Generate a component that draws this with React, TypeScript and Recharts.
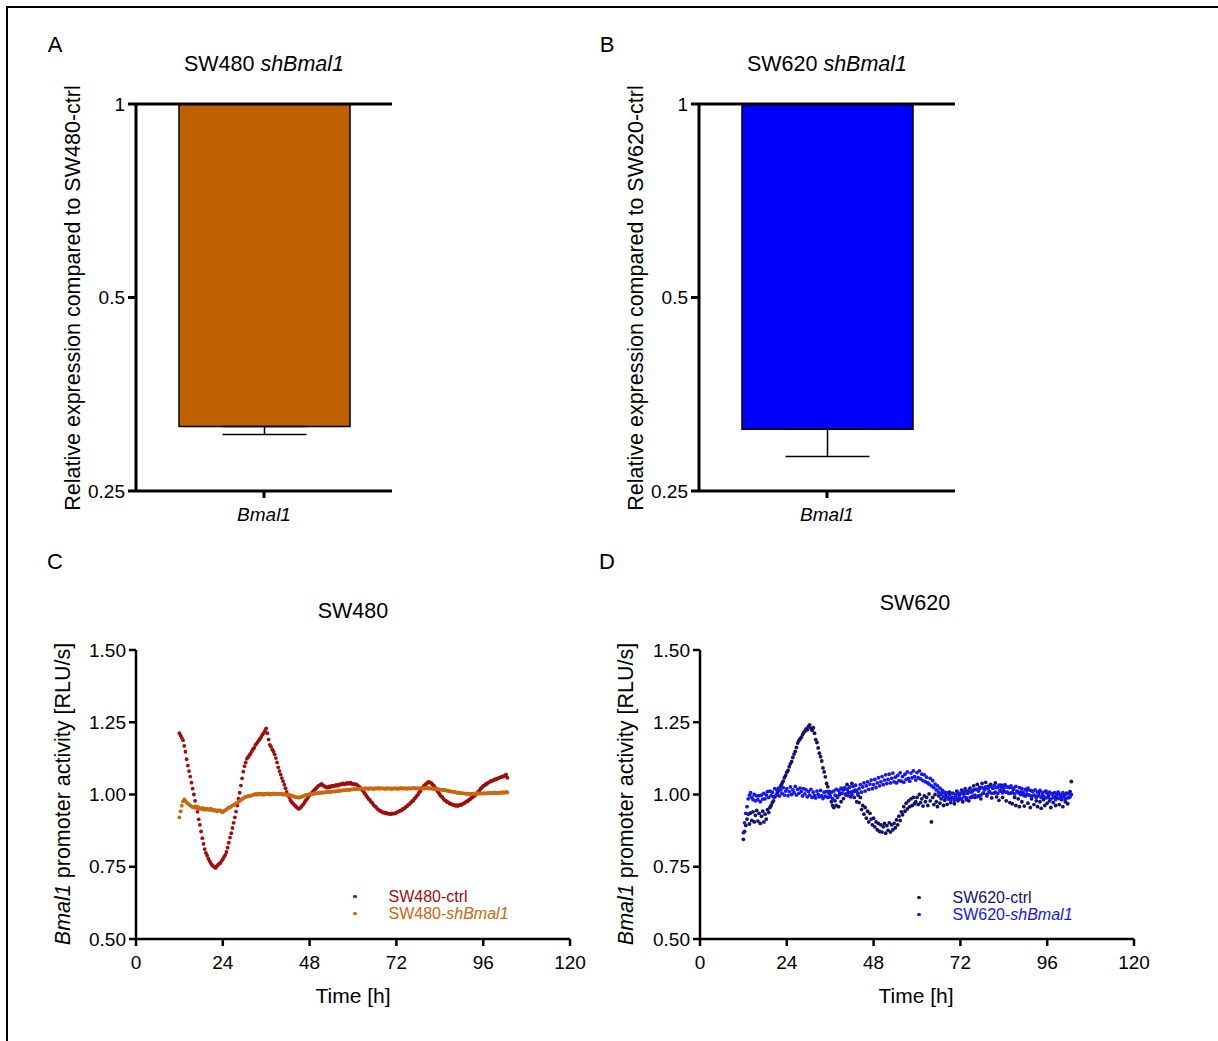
import React from 'react'
import {
  BarChart,
  Bar,
  ErrorBar,
  XAxis,
  YAxis,
  ReferenceLine,
  ScatterChart,
  Scatter,
  Legend,
} from 'recharts'

const FONT = '"Liberation Sans", Arial, Helvetica, sans-serif'

// qPCR: expression relative to the matching control line (= 1)
const GENES = ['Bmal1']
const SW480_KD = [0.315]
const SW480_KD_ERR = [0.009]
const SW620_KD = [0.312]
const SW620_KD_ERR = [0.029]

const BAR_TICKS = [0.25, 0.5, 1]
const TIME_TICKS = [0, 24, 48, 72, 96, 120]
const RLU_TICKS = [0.5, 0.75, 1, 1.25, 1.5]

// luminescence readings, one every 20 min starting at 12 h
const T0 = 12
const STEP = 1 / 3

const SW480_CTRL = [
  1.212, 1.204, 1.196, 1.188, 1.168, 1.148, 1.122, 1.1, 1.081, 1.062, 1.041, 1.02,
  1.0, 0.978, 0.958, 0.94, 0.914, 0.895, 0.872, 0.849, 0.829, 0.811, 0.798, 0.789,
  0.778, 0.77, 0.763, 0.756, 0.752, 0.749, 0.746, 0.752, 0.756, 0.761, 0.763, 0.77,
  0.776, 0.784, 0.791, 0.801, 0.816, 0.833, 0.851, 0.866, 0.884, 0.902, 0.921, 0.941,
  0.962, 0.986, 1.006, 1.031, 1.056, 1.079, 1.098, 1.111, 1.124, 1.129, 1.136, 1.141,
  1.149, 1.157, 1.161, 1.171, 1.176, 1.182, 1.188, 1.194, 1.2, 1.208, 1.213, 1.221,
  1.229, 1.212, 1.19, 1.172, 1.166, 1.156, 1.149, 1.139, 1.126, 1.111, 1.094, 1.081,
  1.069, 1.057, 1.046, 1.034, 1.022, 1.009, 0.999, 0.991, 0.981, 0.974, 0.97, 0.965,
  0.961, 0.957, 0.953, 0.95, 0.953, 0.957, 0.963, 0.967, 0.974, 0.981, 0.985, 0.992,
  0.997, 1.003, 1.006, 1.011, 1.016, 1.019, 1.024, 1.029, 1.031, 1.034, 1.037, 1.032,
  1.029, 1.027, 1.025, 1.024, 1.028, 1.025, 1.029, 1.031, 1.028, 1.031, 1.033, 1.03,
  1.034, 1.033, 1.037, 1.035, 1.038, 1.035, 1.037, 1.04, 1.037, 1.039, 1.041, 1.036,
  1.037, 1.035, 1.036, 1.034, 1.031, 1.027, 1.024, 1.019, 1.014, 1.009, 1.002, 0.996,
  0.99, 0.984, 0.981, 0.974, 0.971, 0.964, 0.96, 0.957, 0.951, 0.948, 0.944, 0.943,
  0.94, 0.937, 0.938, 0.935, 0.936, 0.933, 0.934, 0.932, 0.935, 0.933, 0.935, 0.934,
  0.937, 0.94, 0.941, 0.944, 0.945, 0.949, 0.951, 0.953, 0.958, 0.96, 0.965, 0.967,
  0.972, 0.977, 0.979, 0.986, 0.989, 0.996, 1.0, 1.008, 1.012, 1.021, 1.024, 1.031,
  1.035, 1.037, 1.042, 1.044, 1.041, 1.039, 1.034, 1.031, 1.024, 1.02, 1.012, 1.007,
  1.0, 0.994, 0.991, 0.985, 0.98, 0.979, 0.974, 0.973, 0.969, 0.968, 0.965, 0.965,
  0.963, 0.961, 0.963, 0.96, 0.963, 0.965, 0.964, 0.968, 0.969, 0.972, 0.976, 0.976,
  0.981, 0.983, 0.988, 0.99, 0.994, 0.996, 1.001, 1.005, 1.011, 1.014, 1.021, 1.024,
  1.03, 1.031, 1.036, 1.036, 1.041, 1.042, 1.046, 1.046, 1.049, 1.05, 1.053, 1.052,
  1.056, 1.057, 1.059, 1.06, 1.063, 1.062, 1.066, 1.069, 1.058,
]

const SW480_SH = [
  0.921, 0.942, 0.961, 0.976, 0.983, 0.979, 0.972, 0.969, 0.965, 0.962, 0.96, 0.956,
  0.955, 0.959, 0.953, 0.951, 0.956, 0.95, 0.951, 0.954, 0.948, 0.951, 0.947, 0.95,
  0.949, 0.946, 0.951, 0.948, 0.944, 0.947, 0.945, 0.942, 0.946, 0.943, 0.945, 0.94,
  0.939, 0.943, 0.946, 0.948, 0.952, 0.955, 0.955, 0.959, 0.962, 0.963, 0.967, 0.97,
  0.971, 0.975, 0.978, 0.981, 0.984, 0.987, 0.99, 0.992, 0.993, 0.994, 0.996, 0.995,
  0.997, 0.999, 1.0, 1.0, 1.003, 0.999, 1.002, 1.003, 1.0, 1.002, 0.999, 1.003,
  1.002, 1.004, 1.001, 1.003, 1.0, 1.003, 1.002, 1.004, 1.001, 1.003, 1.001, 1.002,
  1.002, 1.003, 1.0, 1.001, 0.999, 1.0, 0.998, 0.997, 0.998, 0.996, 0.995, 0.993,
  0.992, 0.99, 0.991, 0.989, 0.99, 0.992, 0.993, 0.995, 0.997, 0.998, 0.999, 1.0,
  1.0, 1.002, 1.001, 1.003, 1.004, 1.003, 1.004, 1.005, 1.006, 1.006, 1.007, 1.006,
  1.007, 1.008, 1.009, 1.008, 1.01, 1.009, 1.009, 1.011, 1.011, 1.01, 1.012, 1.011,
  1.012, 1.014, 1.013, 1.014, 1.015, 1.014, 1.015, 1.017, 1.016, 1.016, 1.018, 1.017,
  1.018, 1.019, 1.018, 1.019, 1.021, 1.019, 1.02, 1.021, 1.02, 1.019, 1.022, 1.02,
  1.021, 1.019, 1.022, 1.02, 1.021, 1.019, 1.022, 1.02, 1.021, 1.023, 1.02, 1.021,
  1.022, 1.02, 1.021, 1.019, 1.022, 1.021, 1.02, 1.022, 1.019, 1.021, 1.02, 1.022,
  1.021, 1.019, 1.022, 1.02, 1.023, 1.021, 1.02, 1.022, 1.021, 1.019, 1.022, 1.021,
  1.02, 1.022, 1.021, 1.023, 1.02, 1.022, 1.021, 1.02, 1.023, 1.021, 1.022, 1.02,
  1.022, 1.021, 1.023, 1.02, 1.022, 1.02, 1.021, 1.019, 1.02, 1.018, 1.019, 1.017,
  1.018, 1.016, 1.017, 1.015, 1.016, 1.014, 1.013, 1.013, 1.011, 1.011, 1.01, 1.009,
  1.009, 1.008, 1.007, 1.006, 1.006, 1.005, 1.005, 1.004, 1.004, 1.003, 1.003, 1.002,
  1.003, 1.002, 1.001, 1.003, 1.002, 1.004, 1.002, 1.003, 1.005, 1.003, 1.004, 1.003,
  1.004, 1.005, 1.003, 1.005, 1.004, 1.006, 1.005, 1.004, 1.006, 1.005, 1.007, 1.005,
  1.006, 1.005, 1.007, 1.006, 1.008, 1.006, 1.007, 1.009, 1.007,
]

const SW620_CTRL = [
  0.845, 0.872, 0.893, 0.915, 0.932, 0.898, 0.936, 0.91, 0.94, 0.905, 0.928, 0.945,
  0.908, 0.935, 0.9, 0.925, 0.942, 0.905, 0.932, 0.915, 0.948, 0.938, 0.955, 0.962,
  0.972, 0.978, 0.991, 0.996, 1.004, 1.012, 1.02, 1.031, 1.038, 1.046, 1.058, 1.066,
  1.077, 1.083, 1.096, 1.106, 1.114, 1.128, 1.14, 1.149, 1.163, 1.178, 1.186, 1.192,
  1.198, 1.207, 1.214, 1.219, 1.227, 1.224, 1.236, 1.241, 1.229, 1.222, 1.231, 1.212,
  1.19, 1.18, 1.161, 1.143, 1.131, 1.116, 1.092, 1.078, 1.061, 1.038, 1.027, 1.011,
  0.995, 0.975, 0.962, 0.955, 0.978, 0.962, 0.99, 0.958, 1.005, 0.975, 1.018, 0.986,
  1.02, 0.998, 1.035, 1.008, 1.025, 0.992, 1.038, 1.012, 0.99, 1.015, 0.975, 0.998,
  0.972, 0.99, 0.948, 0.962, 0.932, 0.955, 0.918, 0.942, 0.905, 0.935, 0.915, 0.895,
  0.918, 0.888, 0.905, 0.878, 0.9, 0.872, 0.895, 0.87, 0.888, 0.9, 0.866, 0.892,
  0.876, 0.902, 0.87, 0.895, 0.878, 0.9, 0.885, 0.912, 0.895, 0.925, 0.91, 0.94,
  0.93, 0.958, 0.942, 0.97, 0.95, 0.978, 0.958, 0.985, 0.962, 0.99, 0.968, 0.975,
  0.99, 0.965, 1.0, 0.972, 0.985, 0.96, 0.995, 0.975, 0.99, 0.962, 1.002, 0.978,
  0.905, 0.99, 0.965, 1.0, 0.975, 0.958, 0.995, 0.97, 0.985, 1.005, 0.962, 0.98,
  0.998, 0.966, 0.988, 1.008, 0.972, 0.99, 1.004, 0.968, 0.995, 1.012, 0.978, 1.0,
  0.985, 1.015, 0.975, 1.002, 1.02, 0.982, 1.008, 0.978, 1.022, 0.99, 1.012, 1.03,
  0.99, 1.018, 1.035, 0.995, 1.025, 0.985, 1.038, 1.005, 1.02, 1.042, 0.995, 1.028,
  1.01, 1.035, 0.988, 1.022, 1.005, 1.04, 0.992, 1.025, 0.98, 1.015, 1.032, 0.99,
  1.012, 1.03, 0.978, 1.008, 1.025, 0.972, 1.005, 0.968, 1.018, 0.99, 0.962, 1.012,
  0.985, 0.958, 1.008, 0.975, 1.0, 0.96, 0.995, 1.015, 0.97, 0.998, 0.955, 0.985,
  1.01, 0.965, 0.995, 0.978, 0.958, 1.005, 0.975, 0.952, 0.995, 0.982, 0.962, 1.012,
  0.97, 0.995, 0.978, 0.955, 1.002, 0.972, 0.992, 0.962, 0.988, 1.008, 0.965, 0.995,
  0.982, 0.958, 0.998, 0.975, 1.005, 0.968, 0.99, 1.01, 1.045,
]

const SW620_SH = [
  0.868, 0.902, 0.935, 0.958, 0.985, 0.998, 1.006, 0.99, 0.982, 1.0, 0.978, 0.995,
  0.982, 0.996, 0.975, 0.998, 0.984, 1.004, 0.985, 0.998, 1.01, 0.99, 1.012, 0.996,
  1.008, 0.992, 1.02, 0.998, 1.014, 1.022, 0.995, 1.016, 1.004, 1.024, 0.998, 1.012,
  1.02, 0.996, 1.01, 1.026, 1.0, 1.016, 1.006, 1.028, 0.998, 1.018, 1.004, 1.022,
  1.01, 0.995, 1.02, 1.002, 1.016, 0.992, 1.01, 0.998, 1.018, 0.99, 1.008, 0.996,
  0.988, 1.012, 1.0, 0.992, 1.014, 0.996, 0.986, 1.008, 0.994, 1.01, 0.99, 1.004,
  0.992, 1.008, 0.986, 1.012, 0.998, 1.018, 0.994, 1.014, 1.0, 1.022, 1.004, 1.016,
  1.024, 1.002, 1.018, 0.996, 1.026, 1.008, 1.0, 1.028, 1.01, 1.032, 1.012, 1.004,
  1.02, 1.034, 1.008, 1.026, 1.04, 1.012, 1.03, 1.044, 1.018, 1.036, 1.05, 1.02,
  1.034, 1.052, 1.024, 1.04, 1.058, 1.03, 1.044, 1.062, 1.034, 1.05, 1.068, 1.038,
  1.052, 1.07, 1.04, 1.056, 1.074, 1.044, 1.06, 1.04, 1.066, 1.048, 1.075, 1.046,
  1.062, 1.042, 1.07, 1.052, 1.078, 1.056, 1.046, 1.074, 1.058, 1.082, 1.062, 1.05,
  1.076, 1.058, 1.082, 1.054, 1.07, 1.048, 1.068, 1.044, 1.06, 1.04, 1.036, 1.056,
  1.03, 1.048, 1.024, 1.036, 1.016, 1.03, 1.008, 1.022, 1.0, 1.014, 0.992, 1.008,
  0.99, 1.006, 0.984, 1.0, 0.982, 1.004, 0.988, 0.98, 1.0, 0.986, 1.006, 0.99,
  1.002, 0.984, 1.008, 0.992, 1.012, 0.988, 1.004, 1.014, 0.99, 1.008, 0.994, 1.016,
  0.998, 1.018, 0.992, 1.012, 1.02, 0.998, 1.024, 1.004, 1.016, 1.026, 1.0, 1.02,
  1.008, 1.028, 1.004, 1.022, 1.032, 1.008, 1.024, 1.004, 1.032, 1.012, 1.026, 1.006,
  1.022, 1.034, 1.008, 1.026, 1.004, 1.024, 1.03, 1.008, 1.022, 1.002, 1.028, 1.01,
  1.006, 1.024, 1.0, 1.02, 1.008, 0.996, 1.018, 1.002, 1.022, 0.998, 1.014, 0.994,
  1.012, 0.998, 1.016, 0.99, 1.008, 0.996, 1.014, 0.99, 1.006, 0.994, 1.01, 0.988,
  1.004, 0.99, 1.008, 0.984, 1.002, 0.99, 1.006, 0.982, 0.998, 1.004, 0.986, 1.0,
  0.99, 1.006, 0.992, 0.984, 1.002, 0.988, 1.004, 0.992, 1.0,
]

const C_SW480_CTRL = '#a00c0c'
const C_SW480_SH = '#c8680c'
const C_SW480_BAR = '#bf6000'
const C_SW620_CTRL = '#12126e'
const C_SW620_SH = '#1616f2'
const C_SW620_BAR = '#0000ff'

const toPoints = (vals: number[]) => vals.map((v, i) => ({ t: T0 + i * STEP, v }))

const axisStyle = { stroke: '#000', strokeWidth: 3 }
const tickStyle = { fill: '#000', fontSize: 19, fontFamily: FONT }

function KnockdownChart({ left, values, errors, color }: any) {
  const data = GENES.map((gene, i) => ({
    gene,
    range: [1, values[i]],
    err: [errors[i], 0],
  }))
  return (
    <div style={{ position: 'absolute', left, top: 0 }}>
      <BarChart width={460} height={540} data={data} margin={{ top: 104, right: 68, bottom: 19, left: 76 }}>
        <XAxis
          dataKey="gene"
          height={30}
          axisLine={axisStyle}
          tickLine={axisStyle}
          tickSize={7}
          tickMargin={10}
          tick={{ ...tickStyle, fontStyle: 'italic' }}
        />
        <YAxis
          type="number"
          scale="log"
          domain={[0.25, 1]}
          ticks={BAR_TICKS}
          allowDataOverflow
          width={60}
          axisLine={axisStyle}
          tickLine={axisStyle}
          tickSize={8}
          tickMargin={3}
          tick={tickStyle}
          tickFormatter={(v: number) => String(v)}
        />
        <ReferenceLine y={1} stroke="#000" strokeWidth={3} />
        <Bar dataKey="range" fill={color} stroke="#000" strokeWidth={1.5} barSize={171} isAnimationActive={false}>
          <ErrorBar dataKey="err" direction="y" width={42} stroke="#000" strokeWidth={1.5} />
        </Bar>
      </BarChart>
    </div>
  )
}

function dot(color: string, r: number) {
  return (p: any) => <circle cx={p.cx} cy={p.cy} r={r} fill={color} />
}

function RhythmChart({ left, series, legendTop, r }: any) {
  return (
    <div style={{ position: 'absolute', left, top: 540 }}>
      <ScatterChart width={600} height={500} margin={{ top: 110, right: 30, bottom: 41, left: 76 }}>
        <XAxis
          type="number"
          dataKey="t"
          domain={[0, 120]}
          ticks={TIME_TICKS}
          height={60}
          axisLine={{ stroke: '#000', strokeWidth: 2.5 }}
          tickLine={{ stroke: '#000', strokeWidth: 2.5 }}
          tickSize={7}
          tickMargin={10}
          tick={tickStyle}
        />
        <YAxis
          type="number"
          dataKey="v"
          domain={[0.5, 1.5]}
          ticks={RLU_TICKS}
          width={60}
          axisLine={{ stroke: '#000', strokeWidth: 2.5 }}
          tickLine={{ stroke: '#000', strokeWidth: 2.5 }}
          tickSize={7}
          tickMargin={3}
          tick={tickStyle}
          tickFormatter={(v: number) => v.toFixed(2)}
        />
        {series.map((s: any) => (
          <Scatter key={s.key} name={s.key} data={toPoints(s.values)} shape={dot(s.color, r)} isAnimationActive={false} />
        ))}
        <Legend
          layout="horizontal"
          verticalAlign="middle"
          align="center"
          wrapperStyle={{ left: 353, top: legendTop, width: 230 }}
          content={() => (
            <div style={{ position: 'relative', width: 230, height: 34, fontFamily: FONT, fontSize: 16, lineHeight: '17px' }}>
              {series.map((s: any, i: number) => (
                <div key={s.key} style={{ position: 'absolute', left: 0, top: i * 17, height: 17, display: 'flex', alignItems: 'center' }}>
                  <span style={{ display: 'inline-block', width: 3.5, height: 3.5, borderRadius: '50%', background: s.color }} />
                  <span style={{ marginLeft: 32, color: s.color, whiteSpace: 'nowrap' }}>{s.label}</span>
                </div>
              ))}
            </div>
          )}
        />
      </ScatterChart>
    </div>
  )
}

function Annotations() {
  const t = { fontFamily: FONT, fill: '#000' }
  return (
    <svg width={1218} height={1041} style={{ position: 'absolute', left: 0, top: 0 }}>
      <rect x={7} y={7} width={1400} height={1200} fill="none" stroke="#000" strokeWidth={2} />
      <text {...t} x={55} y={52} fontSize={22} textAnchor="middle">A</text>
      <text {...t} x={607} y={52} fontSize={22} textAnchor="middle">B</text>
      <text {...t} x={55} y={569} fontSize={22} textAnchor="middle">C</text>
      <text {...t} x={607} y={569} fontSize={22} textAnchor="middle">D</text>

      <text {...t} x={264} y={71} fontSize={21.5} textAnchor="middle">
        SW480 <tspan fontStyle="italic">shBmal1</tspan>
      </text>
      <text {...t} x={827} y={71} fontSize={21.5} textAnchor="middle">
        SW620 <tspan fontStyle="italic">shBmal1</tspan>
      </text>
      <text {...t} x={353} y={618} fontSize={21.5} textAnchor="middle">SW480</text>
      <text {...t} x={915} y={610} fontSize={21.5} textAnchor="middle">SW620</text>

      <text {...t} x={80} y={298} fontSize={21.5} textAnchor="middle" transform="rotate(-90 80 298)">
        Relative expression compared to SW480-ctrl
      </text>
      <text {...t} x={643} y={298} fontSize={21.5} textAnchor="middle" transform="rotate(-90 643 298)">
        Relative expression compared to SW620-ctrl
      </text>
      <text {...t} x={70} y={794} fontSize={21.5} textAnchor="middle" transform="rotate(-90 70 794)">
        <tspan fontStyle="italic">Bmal1</tspan> promoter activity [RLU/s]
      </text>
      <text {...t} x={633} y={794} fontSize={21.5} textAnchor="middle" transform="rotate(-90 633 794)">
        <tspan fontStyle="italic">Bmal1</tspan> promoter activity [RLU/s]
      </text>

      <text {...t} x={353} y={1003} fontSize={21} textAnchor="middle">Time [h]</text>
      <text {...t} x={916} y={1003} fontSize={21} textAnchor="middle">Time [h]</text>
    </svg>
  )
}

export default function App() {
  const sw480 = [
    { key: 'SW480-ctrl', values: SW480_CTRL, color: C_SW480_CTRL, label: 'SW480-ctrl' },
    {
      key: 'SW480-shBmal1',
      values: SW480_SH,
      color: C_SW480_SH,
      label: (
        <>
          SW480-<i>shBmal1</i>
        </>
      ),
    },
  ]
  const sw620 = [
    { key: 'SW620-ctrl', values: SW620_CTRL, color: C_SW620_CTRL, label: 'SW620-ctrl' },
    {
      key: 'SW620-shBmal1',
      values: SW620_SH,
      color: C_SW620_SH,
      label: (
        <>
          SW620-<i>shBmal1</i>
        </>
      ),
    },
  ]

  return (
    <div
      style={{
        position: 'absolute',
        left: 0,
        top: 0,
        width: 1218,
        height: 1041,
        overflow: 'hidden',
        background: '#fff',
        fontFamily: FONT,
      }}
    >
      <Annotations />
      <KnockdownChart left={0} values={SW480_KD} errors={SW480_KD_ERR} color={C_SW480_BAR} />
      <KnockdownChart left={563} values={SW620_KD} errors={SW620_KD_ERR} color={C_SW620_BAR} />
      <RhythmChart left={0} series={sw480} legendTop={348} r={1.9} />
      <RhythmChart left={564} series={sw620} legendTop={349} r={1.9} />
    </div>
  )
}
